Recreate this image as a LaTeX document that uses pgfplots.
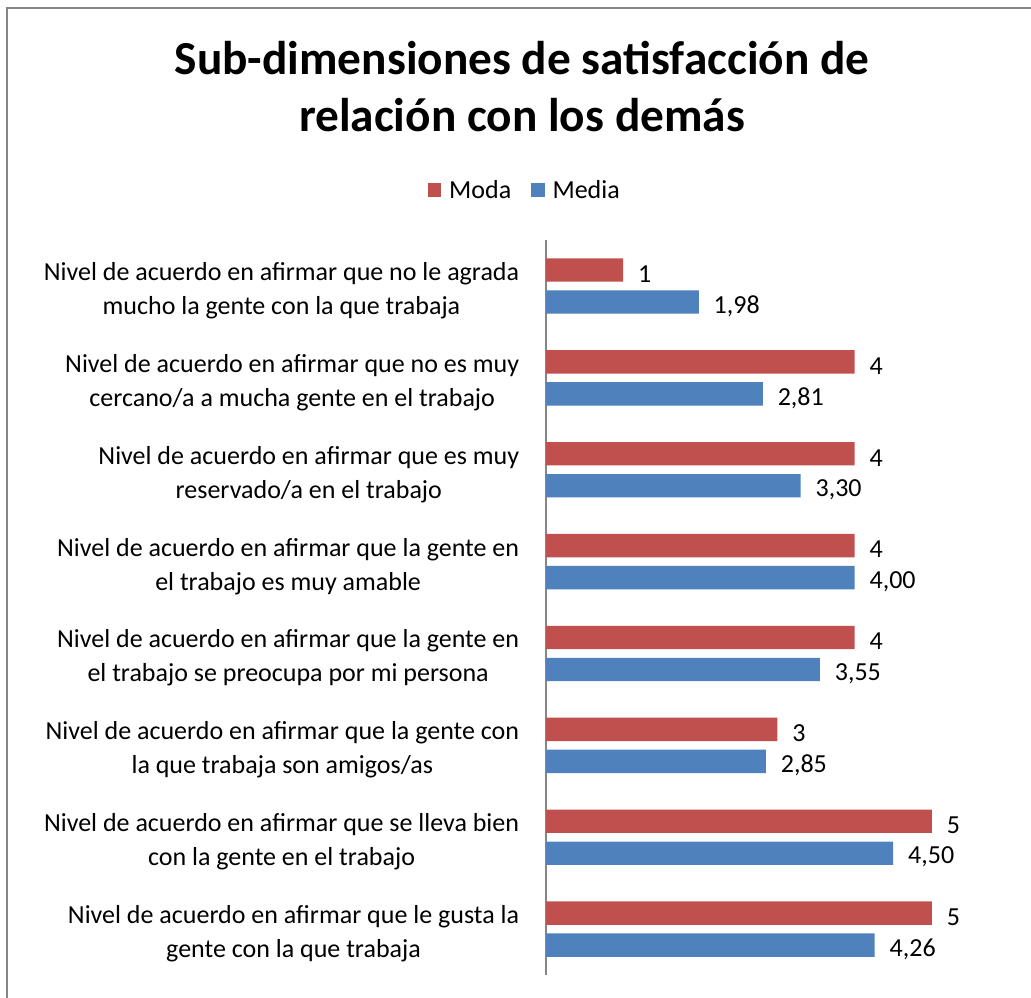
\documentclass[border=0pt]{standalone}
\usepackage{pgfplots}
\pgfplotsset{compat=1.18}
\usepackage{fontspec}
\setmainfont{Carlito}
\definecolor{moda}{HTML}{C0504D}
\definecolor{media}{HTML}{4F81BD}
\definecolor{axgray}{HTML}{868686}
\begin{document}
\begin{tikzpicture}
\useasboundingbox (0,0) rectangle (773.25pt,-747.75pt);
\draw[axgray, line width=1.4pt] (5.25pt,-800pt) -- (5.25pt,-6pt) -- (800pt,-6pt);
\node[anchor=base, font=\fontsize{35.5}{42}\selectfont\bfseries, inner sep=0pt] at (391.5pt,-55.5pt) {Sub-dimensiones de satisfacción de};
\node[anchor=base, font=\fontsize{35.5}{42}\selectfont\bfseries, inner sep=0pt] at (391.5pt,-98.25pt) {relación con los demás};
\begin{axis}[
  at={(409.5pt,-731.25pt)}, anchor=south west,
  scale only axis, width=347.25pt, height=551.25pt,
  xbar, bar width=17.5pt,
  xmin=0, xmax=6,
  ymin=-0.5, ymax=7.5, y dir=reverse,
  axis x line=none, axis y line*=left,
  y axis line style={axgray, line width=1.1pt, -},
  major tick length=0pt,
  ytick={0,...,7},
  yticklabels={
    {Nivel de acuerdo en afirmar que no le agrada\\mucho la gente con la que trabaja},
    {Nivel de acuerdo en afirmar que no es muy\\cercano/a a mucha gente en el trabajo},
    {Nivel de acuerdo en afirmar que es muy\\reservado/a en el trabajo},
    {Nivel de acuerdo en afirmar que la gente en\\el trabajo es muy amable},
    {Nivel de acuerdo en afirmar que la gente en\\el trabajo se preocupa por mi persona},
    {Nivel de acuerdo en afirmar que la gente con\\la que trabaja son amigos/as},
    {Nivel de acuerdo en afirmar que se lleva bien\\con la gente en el trabajo},
    {Nivel de acuerdo en afirmar que le gusta la\\gente con la que trabaja}},
  yticklabel style={align=center, inner sep=0pt, xshift=-20pt, yshift=-3.5pt,
    font=\fontsize{19.5}{25.5}\selectfont},
  /pgf/number format/assume math mode=true,
  nodes near coords,
  every node near coord/.append style={anchor=west, inner sep=0pt, xshift=11pt, yshift=-3pt,
    font=\fontsize{19.5}{23}\selectfont, text=black},
  legend style={at={(rel axis cs:-0.045,1.068)}, anchor=center, draw=none,
    legend columns=2, font=\fontsize{19.5}{23}\selectfont,
    /tikz/every even column/.append style={column sep=13pt}},
  legend image code/.code={\fill[#1] (0pt,-5pt) rectangle (10pt,5pt); \path (14pt,0pt);},
  clip=false,
]
\addplot[fill=moda, draw=none, bar shift=12pt,
  nodes near coords style={/pgf/number format/.cd, fixed, precision=0}]
  coordinates {(1,0) (4,1) (4,2) (4,3) (4,4) (3,5) (5,6) (5,7)};
\addplot[fill=media, draw=none, bar shift=-12pt,
  nodes near coords style={/pgf/number format/.cd, fixed, fixed zerofill, precision=2, use comma}]
  coordinates {(1.98,0) (2.81,1) (3.30,2) (4.00,3) (3.55,4) (2.85,5) (4.50,6) (4.26,7)};
\legend{Moda, Media}
\end{axis}
\end{tikzpicture}
\end{document}
